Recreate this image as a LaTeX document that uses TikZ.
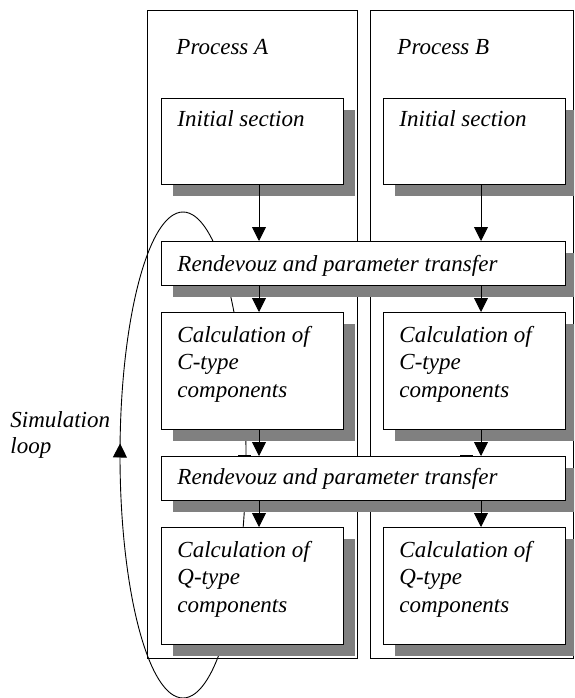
\documentclass[tikz,border=0pt]{standalone}
\usepackage{fontspec}
\setmainfont{Liberation Serif}
\usetikzlibrary{arrows.meta,shadows,decorations.markings,calc}
\tikzset{
  lbl/.style={font=\fontsize{23}{27.5}\selectfont\itshape, inner sep=0pt, anchor=base west, align=left},
  outerbox/.style={draw, inner sep=0pt, anchor=north west},
  procbox/.style={draw, fill=white, inner sep=0pt, anchor=north west,
    drop shadow={shadow xshift=11.5pt, shadow yshift=-12pt, fill=black!50, opacity=1}},
  arr/.style={-{Triangle[width=14pt,length=14pt]}},
}
\begin{document}
\begin{tikzpicture}[x=1pt,y=-1pt,line width=0.9pt]
\path[use as bounding box] (0,0) rectangle (574,698);
\clip (0,0) rectangle (574,698);
% process frames
\node[outerbox, minimum width=210pt, minimum height=648pt] (pA) at (147,10) {};
\node[outerbox, minimum width=203pt, minimum height=648pt] (pB) at (370,10) {};
% simulation loop
\path[draw, postaction={decorate}, decoration={markings,
  mark=at position 0.511 with {\arrow{Triangle[width=14pt,length=14pt]}}}]
  (183,455) ellipse [x radius=63, y radius=243];
% inner boxes
\node[procbox, minimum width=182pt, minimum height=86pt] (iA) at (161,98) {};
\node[procbox, minimum width=182pt, minimum height=86pt] (iB) at (383,98) {};
\node[procbox, minimum width=404pt, minimum height=44pt] (r1) at (161,241) {};
\node[procbox, minimum width=182pt, minimum height=117pt] (cA) at (161,312) {};
\node[procbox, minimum width=182pt, minimum height=117pt] (cB) at (383,312) {};
\node[procbox, minimum width=404pt, minimum height=44pt] (r2) at (161,456) {};
\node[procbox, minimum width=182pt, minimum height=117pt] (qA) at (161,527) {};
\node[procbox, minimum width=182pt, minimum height=117pt] (qB) at (383,527) {};
% texts (multi-line nodes are anchored at the baseline of their last line)
\node[lbl] (tpA) at (176,55) {Process A};
\node[lbl] (tpB) at (397,55) {Process B};
\node[lbl] (tiA) at (177,127) {Initial section};
\node[lbl] (tiB) at (399,127) {Initial section};
\node[lbl] (tr1) at (177,271) {Rendevouz and parameter transfer};
\node[lbl] (tcA) at (177,397) {Calculation of\\C-type\\components};
\node[lbl] (tcB) at (399,397) {Calculation of\\C-type\\components};
\node[lbl] (tr2) at (177,484) {Rendevouz and parameter transfer};
\node[lbl] (tqA) at (177,612) {Calculation of\\Q-type\\components};
\node[lbl] (tqB) at (399,612) {Calculation of\\Q-type\\components};
\node[lbl, font=\fontsize{23}{26.5}\selectfont\itshape] (tsl) at (10,453.5) {Simulation\\loop};
% columns of arrows
\coordinate (colA) at (259,0);
\coordinate (colB) at (481,0);
\draw[arr] (iA.south -| colA) -- (r1.north -| colA);
\draw[arr] (iB.south -| colB) -- (r1.north -| colB);
\draw[arr] (r1.south -| colA) -- (cA.north -| colA);
\draw[arr] (r1.south -| colB) -- (cB.north -| colB);
\draw[arr] (cA.south -| colA) -- (r2.north -| colA);
\draw[arr] (cB.south -| colB) -- (r2.north -| colB);
\draw[arr] (r2.south -| colA) -- (qA.north -| colA);
\draw[arr] (r2.south -| colB) -- (qB.north -| colB);
% small marks on the second rendezvous box
\coordinate (m1a) at ($(r2.north west)+(77,0)$);
\coordinate (m1b) at ($(r2.north west)+(90,0)$);
\coordinate (m2a) at ($(r2.north west)+(299,0)$);
\coordinate (m2b) at ($(r2.north west)+(312,0)$);
\draw[line width=1.8pt] (m1a) -- (m1b);
\draw[line width=1.8pt] (m2a) -- (m2b);
\end{tikzpicture}
\end{document}
